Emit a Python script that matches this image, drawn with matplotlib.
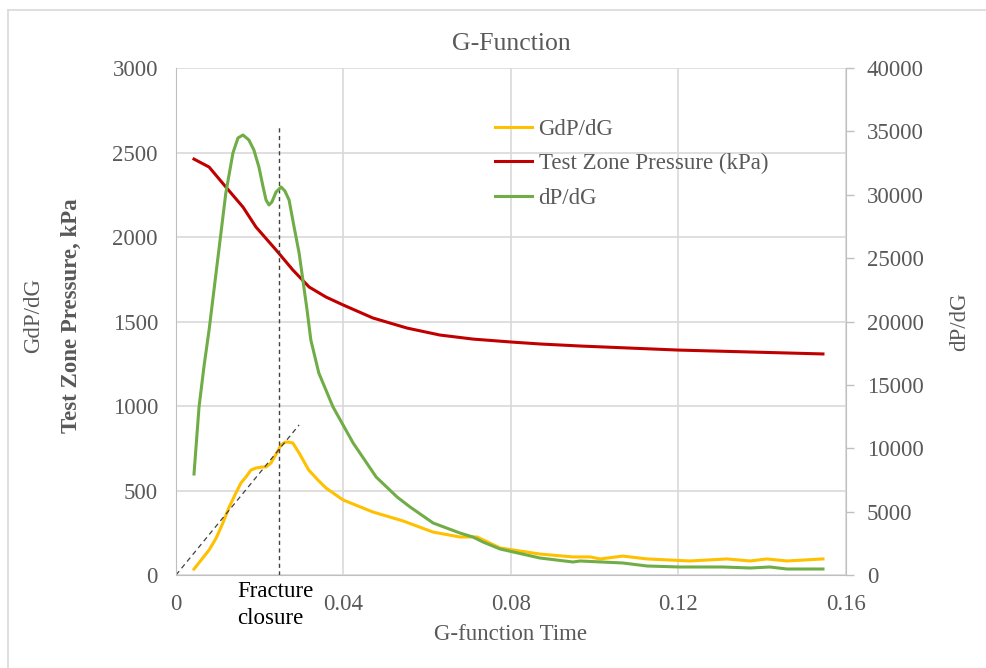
import matplotlib
matplotlib.use('Agg')
import matplotlib.pyplot as plt
from matplotlib.lines import Line2D
from matplotlib.ticker import FuncFormatter

# G-function time (x) for each series
pressure_x = [0.0043, 0.0079, 0.0119, 0.0160, 0.0191, 0.0239, 0.0279, 0.0318,
              0.0358, 0.0399, 0.0470, 0.0552, 0.0630, 0.0709, 0.0798, 0.0869,
              0.0965, 0.1199, 0.1545]
pressure = [2461, 2414, 2296, 2177, 2059, 1923, 1805, 1704,
            1645, 1598, 1521, 1461, 1420, 1396, 1379, 1367,
            1355, 1331, 1308]

gdpdg_x = [0.0043, 0.0079, 0.0096, 0.0112, 0.0127, 0.0143, 0.0155, 0.0167,
           0.0179, 0.0191, 0.0205, 0.0215, 0.0227, 0.0239, 0.0251, 0.0260,
           0.0267, 0.0279, 0.0294, 0.0317, 0.0339, 0.0358, 0.0399, 0.0470,
           0.0542, 0.0614, 0.0678, 0.0719, 0.0774, 0.0869, 0.0948, 0.0989,
           0.1013, 0.1067, 0.1125, 0.1227, 0.1316, 0.1371, 0.1411, 0.1459,
           0.1545]
gdpdg = [35, 148, 219, 308, 402, 485, 544, 580,
         621, 633, 639, 639, 663, 715, 770, 785,
         787, 781, 722, 621, 562, 515, 444, 373,
         320, 254, 225, 225, 160, 124, 107, 107,
         95, 112, 95, 83, 95, 83, 95, 83,
         95]

dpdg_x = [0.0043, 0.0055, 0.0067, 0.0079, 0.0100, 0.0119, 0.0136, 0.0148,
          0.0160, 0.0174, 0.0186, 0.0198, 0.0208, 0.0215, 0.0222, 0.0229,
          0.0239, 0.0251, 0.0260, 0.0270, 0.0282, 0.0294, 0.0303, 0.0313,
          0.0322, 0.0341, 0.0375, 0.0423, 0.0478, 0.0528, 0.0559, 0.0614,
          0.0678, 0.0709, 0.0733, 0.0774, 0.0869, 0.0948, 0.0965, 0.1067,
          0.1125, 0.1204, 0.1306, 0.1371, 0.1418, 0.1459, 0.1545]
dpdg = [7969, 13255, 16500, 19330, 25000, 30140, 33300, 34479,
        34716, 34320, 33532, 32190, 30613, 29590, 29193, 29430,
        30220, 30613, 30300, 29590, 27457, 25400, 23276, 20900,
        18541, 15938, 13255, 10415, 7732, 6154, 5365, 4103,
        3314, 2998, 2604, 2051, 1341, 1026, 1105, 947,
        710, 631, 631, 552, 631, 473, 473]

closure_x = 0.0246
closure_top = 2650
tangent_x = [0.0, 0.0294]
tangent_y = [0, 888]

x_ticks = [0, 0.04, 0.08, 0.12, 0.16]
left_ticks = [0, 500, 1000, 1500, 2000, 2500, 3000]
right_ticks = [0, 5000, 10000, 15000, 20000, 25000, 30000, 35000, 40000]

plt.rcParams['font.family'] = ['Liberation Serif', 'DejaVu Serif']
plt.rcParams['font.size'] = 16

GRAY = '#595959'
GRID = '#d9d9d9'
SPINE = '#bfbfbf'
FS = 16.5

fig = plt.figure(figsize=(9.87, 6.68), dpi=100)
ax = fig.add_axes([176/987, 1-575/668, 670/987, 507/668])
ax2 = ax.twinx()

# Data
ax.plot(gdpdg_x, gdpdg, color='#FFC000', linewidth=2.2, solid_joinstyle='round')
ax.plot(pressure_x, pressure, color='#C00000', linewidth=2.2, solid_joinstyle='round')
ax2.plot(dpdg_x, dpdg, color='#70AD47', linewidth=2.2, solid_joinstyle='round')

# Fracture closure helpers
ax.plot([closure_x, closure_x], [0, closure_top], color='#404040',
        linewidth=1, linestyle=(0, (3, 2.5)))
ax.plot(tangent_x, tangent_y, color='#404040', linewidth=0.9,
        linestyle=(0, (4, 3)))
ax.text(0.0146, -38, 'Fracture\nclosure', ha='left', va='top',
        multialignment='left', color='black', fontsize=FS, linespacing=1.32)

# Axes
ax.set_xlim(0, 0.16)
ax.set_ylim(0, 3000)
ax2.set_ylim(0, 40000)
ax.set_xticks(x_ticks)
ax.set_yticks(left_ticks)
ax2.set_yticks(right_ticks)
ax.xaxis.set_major_formatter(FuncFormatter(lambda v, p: '%g' % v))

ax.grid(True, color=GRID, linewidth=1.2)
ax.set_axisbelow(True)
for a in (ax, ax2):
    for s in a.spines.values():
        s.set_visible(False)
ax.spines['left'].set_visible(True)
ax.spines['left'].set_color(SPINE)
ax.spines['bottom'].set_visible(True)
ax.spines['bottom'].set_color(SPINE)
ax2.spines['right'].set_visible(True)
ax2.spines['right'].set_color(SPINE)

ax.tick_params(axis='both', length=0, colors=GRAY, labelsize=FS)
ax.tick_params(axis='y', pad=13)
ax.tick_params(axis='x', pad=14)
ax2.tick_params(axis='y', length=6, width=1, color=SPINE, labelcolor=GRAY,
                labelsize=FS, pad=9)

ax.set_title('G-Function', color=GRAY, fontsize=18.5, pad=13)
ax.set_xlabel('G-function Time', color=GRAY, fontsize=FS, labelpad=6)
ax2.set_ylabel('dP/dG', color=GRAY, fontsize=FS, labelpad=18)

fig.text(34/987, 1-316/668, 'GdP/dG', rotation=90, ha='center', va='center',
         color=GRAY, fontsize=FS)
fig.text(71/987, 1-316/668, 'Test Zone Pressure, kPa', rotation=90,
         ha='center', va='center', color=GRAY, fontsize=FS, fontweight='bold')

handles = [Line2D([], [], color='#FFC000', linewidth=2.2),
           Line2D([], [], color='#C00000', linewidth=2.2),
           Line2D([], [], color='#70AD47', linewidth=2.2)]
labels = ['GdP/dG', 'Test Zone Pressure (kPa)', 'dP/dG']
leg = fig.legend(handles, labels, loc='upper left',
                 bbox_to_anchor=(495/987, 1-119/668), frameon=False,
                 borderpad=0, borderaxespad=0, handlelength=1.6,
                 handletextpad=0.3, labelspacing=0.58, fontsize=FS)
for t in leg.get_texts():
    t.set_color(GRAY)

# Outer chart border
fig.add_artist(Line2D([8/987, 8/987], [0, 1-10/668], color=GRID, linewidth=1.2))
fig.add_artist(Line2D([8/987, 1], [1-10/668, 1-10/668], color=GRID, linewidth=1.2))

fig.savefig('out.png', dpi=100)
